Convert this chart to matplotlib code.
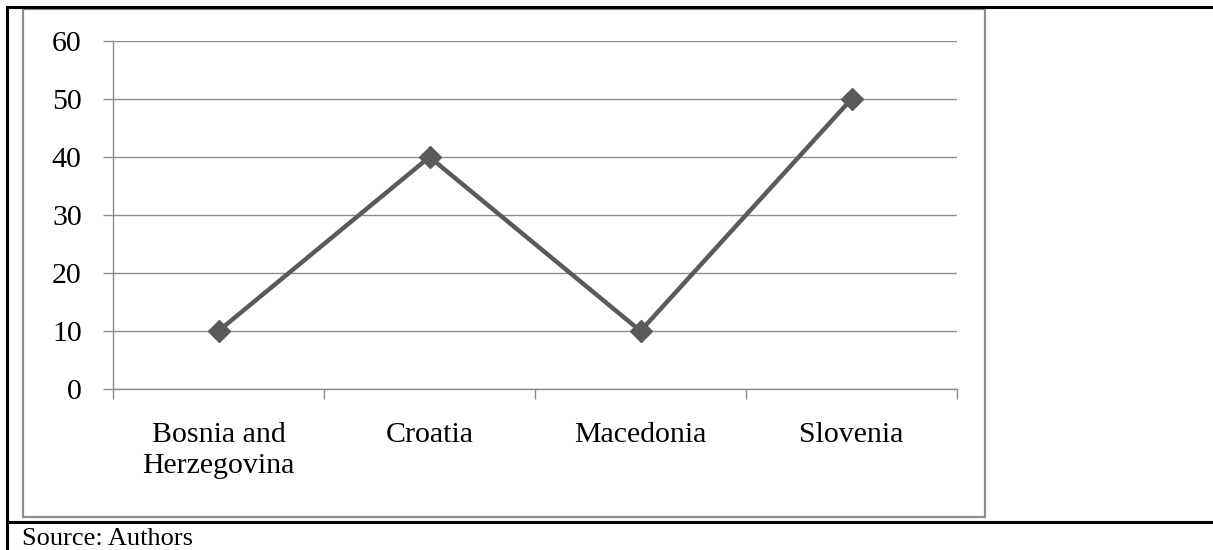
import matplotlib
matplotlib.use('Agg')
import matplotlib.pyplot as plt
from matplotlib.patches import Rectangle
from matplotlib.lines import Line2D

# Datos por país
paises = ['Bosnia and\nHerzegovina', 'Croatia', 'Macedonia', 'Slovenia']
valores = [10, 40, 10, 50]
y_ticks = [0, 10, 20, 30, 40, 50, 60]

plt.rcParams['font.family'] = 'Liberation Serif'

W, H = 1213, 550
fig = plt.figure(figsize=(W / 100, H / 100), dpi=100)

def fx(px):
    return px / W

def fy(py):
    return 1 - py / H

# Marco exterior negro (tabla) y marco gris del gráfico
fig.add_artist(Line2D([fx(7), 1], [fy(7), fy(7)], color='black', lw=2.2))
fig.add_artist(Line2D([fx(7), 1], [fy(522), fy(522)], color='black', lw=2.2))
fig.add_artist(Line2D([fx(7), fx(7)], [fy(7), fy(550)], color='black', lw=2.2))
fig.add_artist(Rectangle((fx(23), fy(517)), fx(985) - fx(23), fy(9) - fy(517),
                         fill=False, edgecolor='#8c8c8c', lw=1.6))

ax = fig.add_axes([fx(113), fy(389), fx(957) - fx(113), fy(41) - fy(389)])
x = list(range(len(paises)))
ax.plot(x, valores, color='#5a5a5a', lw=3.2, marker='D', markersize=11,
        markerfacecolor='#5a5a5a', markeredgecolor='#5a5a5a', zorder=3)

ax.set_xlim(-0.5, len(paises) - 0.5)
ax.set_ylim(0, 60)
ax.set_yticks(y_ticks)
ax.set_yticklabels([str(v) for v in y_ticks], fontsize=21.5)
ax.grid(axis='y', color='#8c8c8c', lw=1)
ax.set_axisbelow(True)

ax.set_xticks(x)
ax.set_xticklabels(paises, fontsize=21.5, linespacing=1.25)
ax.set_xticks([i - 0.5 for i in range(len(paises) + 1)], minor=True)
ax.tick_params(axis='x', which='major', length=0, pad=24)
ax.tick_params(axis='x', which='minor', length=7.5, color='#8c8c8c', width=1)
ax.tick_params(axis='y', length=7.5, color='#8c8c8c', width=1, pad=15)

for s in ['top', 'right']:
    ax.spines[s].set_visible(False)
for s in ['left', 'bottom']:
    ax.spines[s].set_color('#8c8c8c')
    ax.spines[s].set_linewidth(1)

fig.text(fx(22), fy(539), 'Source: Authors', fontsize=19, va='center', ha='left')

fig.savefig('out.png', dpi=100)
